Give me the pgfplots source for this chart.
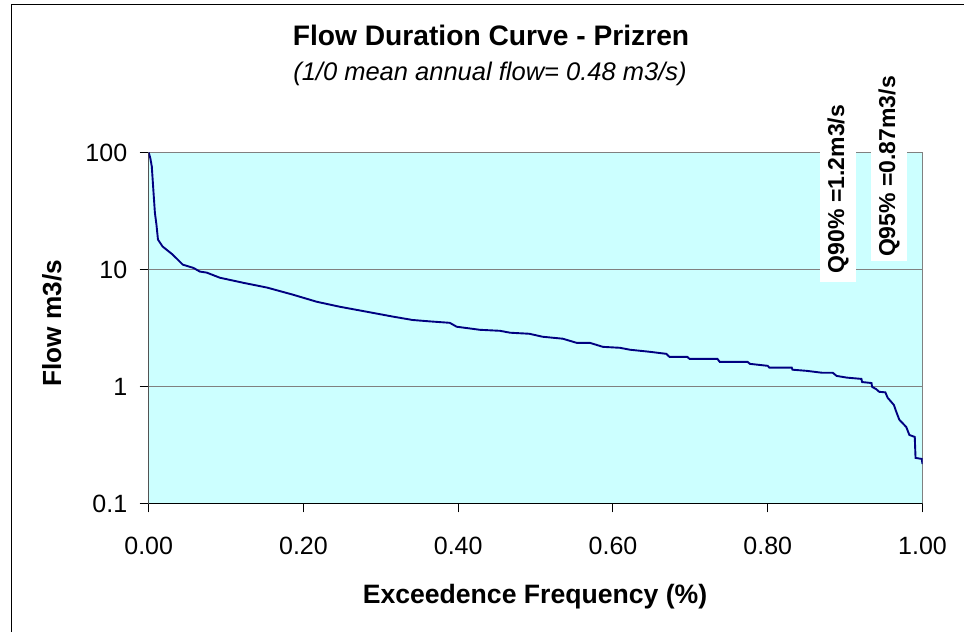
\documentclass[border=0pt]{standalone}
\usepackage{pgfplots}
\pgfplotsset{compat=1.18}
\usepackage{fontspec}
\setmainfont{Liberation Sans}
\definecolor{plotbg}{RGB}{204,255,255}
\definecolor{curve}{RGB}{0,0,128}
\definecolor{gridc}{RGB}{128,128,128}
\begin{document}
\begin{tikzpicture}
\path[use as bounding box] (0,0) rectangle (964pt,-632pt);
\fill[white] (0,0) rectangle (964pt,-632pt);
\draw[black, line width=1.2pt] (11.7pt,-632pt) -- (11.7pt,-4.7pt) -- (964pt,-4.7pt);
\begin{axis}[
 at={(148.7pt,-503.4pt)}, anchor=south west,
 scale only axis, width=773.8pt, height=350.9pt,
 xmin=0, xmax=1, ymode=log, ymin=0.1, ymax=100,
 axis background/.style={fill=plotbg},
 axis line style={draw=gridc, line width=1.5pt},
 xtick={0,0.2,0.4,0.6,0.8,1},
 xticklabels={0.00,0.20,0.40,0.60,0.80,1.00},
 ytick={0.1,1,10,100}, yticklabels={0.1,1,10,100},
 yminorticks=false,
 ymajorgrids, grid style={gridc, line width=1pt},
 tick align=outside, xtick pos=bottom, ytick pos=left,
 major tick length=9pt, tick style={black, line width=1pt},
 ticklabel style={font=\fontsize{25}{28}\selectfont},
 yticklabel style={xshift=-9pt},
 xticklabel style={yshift=-21pt},
 /pgf/number format/assume math mode=true,
]
\addplot[curve, line width=1.9pt] coordinates {
(0,100) (0.002,90) (0.004,76) (0.006,48) (0.008,30.6) (0.010,24.2) (0.012,18)
(0.018,15.7) (0.031,13.4) (0.044,11) (0.058,10.3) (0.066,9.6) (0.075,9.4)
(0.092,8.5) (0.122,7.7) (0.153,7.0) (0.186,6.1) (0.217,5.3) (0.247,4.8)
(0.282,4.35) (0.316,3.95) (0.341,3.7) (0.363,3.6) (0.389,3.5) (0.398,3.24)
(0.428,3.05) (0.454,2.99) (0.467,2.88) (0.492,2.82) (0.509,2.66) (0.535,2.56)
(0.553,2.36) (0.570,2.36) (0.587,2.18) (0.609,2.14) (0.622,2.06) (0.647,1.98)
(0.669,1.90) (0.673,1.79) (0.696,1.79) (0.699,1.72) (0.735,1.72) (0.738,1.62)
(0.774,1.62) (0.777,1.56) (0.800,1.50) (0.802,1.45) (0.831,1.45) (0.832,1.39)
(0.850,1.36) (0.870,1.31) (0.884,1.31) (0.889,1.23) (0.902,1.19) (0.921,1.16)
(0.922,1.09) (0.934,1.07) (0.935,0.99) (0.940,0.95) (0.944,0.90) (0.952,0.89)
(0.955,0.80) (0.963,0.695) (0.966,0.61) (0.970,0.52) (0.979,0.45) (0.983,0.385)
(0.990,0.37) (0.991,0.245) (0.999,0.24) (1.0,0.217)
};
\draw[black, line width=1.5pt] (rel axis cs:0,1) -- (rel axis cs:0,0) -- (rel axis cs:1,0);
\end{axis}
\node[anchor=base, font=\bfseries\fontsize{28.2}{34}\selectfont] at (491pt,-45pt) {Flow Duration Curve - Prizren};
\node[anchor=base, font=\itshape\fontsize{25.5}{30}\selectfont] at (490pt,-80pt) {(1/0 mean annual flow= 0.48 m3/s)};
\node[rotate=90, font=\bfseries\fontsize{26.2}{30}\selectfont] at (52pt,-323pt) {Flow m3/s};
\node[anchor=base, font=\bfseries\fontsize{26.6}{30}\selectfont] at (535pt,-603pt) {Exceedence Frequency (\%)};
\node[rotate=90, fill=white, inner xsep=9pt, inner ysep=7pt, font=\bfseries\fontsize{23}{27}\selectfont] at (838pt,-189pt) {Q90\% =1.2m3/s};
\node[rotate=90, fill=white, inner xsep=4pt, inner ysep=7pt, font=\bfseries\fontsize{23}{27}\selectfont] at (889pt,-166.5pt) {Q95\% =0.87m3/s};
\end{tikzpicture}
\end{document}
